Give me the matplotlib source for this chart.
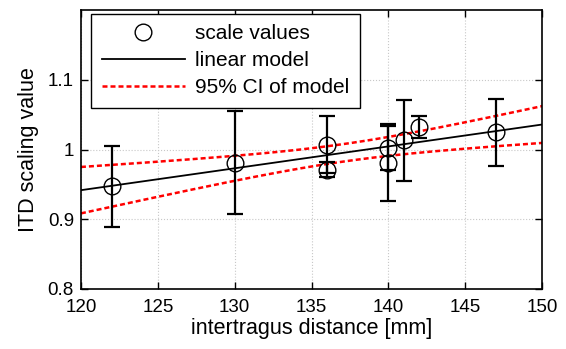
import numpy as np
import matplotlib
matplotlib.use('Agg')
import matplotlib.pyplot as plt

# intertragus distance [mm] and measured ITD scaling values
distance = [122, 130, 136, 136, 140, 140, 141, 142, 147]
scale = [0.947, 0.981, 1.007, 0.971, 1.002, 0.981, 1.013, 1.032, 1.025]
err = [0.058, 0.074, 0.041, 0.011, 0.032, 0.055, 0.058, 0.016, 0.048]

plt.rcParams['font.family'] = ['Liberation Sans', 'DejaVu Sans']
plt.rcParams['font.size'] = 13.5

# linear model + 95% CI of the fitted mean
x = np.array(distance, dtype=float)
y = np.array(scale)
slope, icpt = np.polyfit(x, y, 1)
resid = y - (slope*x + icpt)
n = len(x)
s = np.sqrt(np.sum(resid**2)/(n-2))
t = 2.365  # t(0.975, 7)
xf = np.linspace(120, 150, 200)
yf = slope*xf + icpt
half = t*s*np.sqrt(1.0/n + (xf - x.mean())**2/np.sum((x - x.mean())**2))

fig = plt.figure(figsize=(5.66, 3.49), dpi=100)
ax = fig.add_axes([0.143, 0.172, 0.815, 0.799])

ax.errorbar(distance, scale, yerr=err, fmt='none', ecolor='black', elinewidth=1.6,
            capsize=6, capthick=1.6, zorder=3)
ax.plot(distance, scale, 'o', mfc='none', mec='black', ms=12, mew=1.0,
        label='scale values', zorder=4)
ax.plot(xf, yf, '-', color='black', lw=1.3, label='linear model', zorder=2)
ax.plot(xf, yf + half, color='red', lw=1.8, dashes=(2.0, 1.2), label='95% CI of model', zorder=2)
ax.plot(xf, yf - half, color='red', lw=1.8, dashes=(2.0, 1.2), zorder=2)

ax.set_xlim(120, 150)
ax.set_ylim(0.8, 1.2)
ax.set_xticks([120, 125, 130, 135, 140, 145, 150])
ax.set_yticks([0.8, 0.9, 1.0, 1.1])
ax.set_yticklabels(['0.8', '0.9', '1', '1.1'])
ax.grid(True, color='#c8c8c8', linestyle=':', linewidth=0.8)
ax.tick_params(direction='in', top=True, right=True, length=5, width=1)
ax.tick_params(axis='x', pad=7)
ax.tick_params(axis='y', pad=5)
for sp in ax.spines.values():
    sp.set_linewidth(1.2)

ax.set_xlabel('intertragus distance [mm]', fontsize=15.5, labelpad=2)
ax.set_ylabel('ITD scaling value', fontsize=15.5, labelpad=6)

leg = ax.legend(loc='upper left', bbox_to_anchor=(0.022, 0.986), fancybox=False,
                edgecolor='black', framealpha=1, handlelength=4.0, handletextpad=0.5,
                borderpad=0.5, labelspacing=0.38, borderaxespad=0.0, fontsize=15)
leg.get_frame().set_linewidth(1.0)

fig.savefig('out.png', dpi=100)
